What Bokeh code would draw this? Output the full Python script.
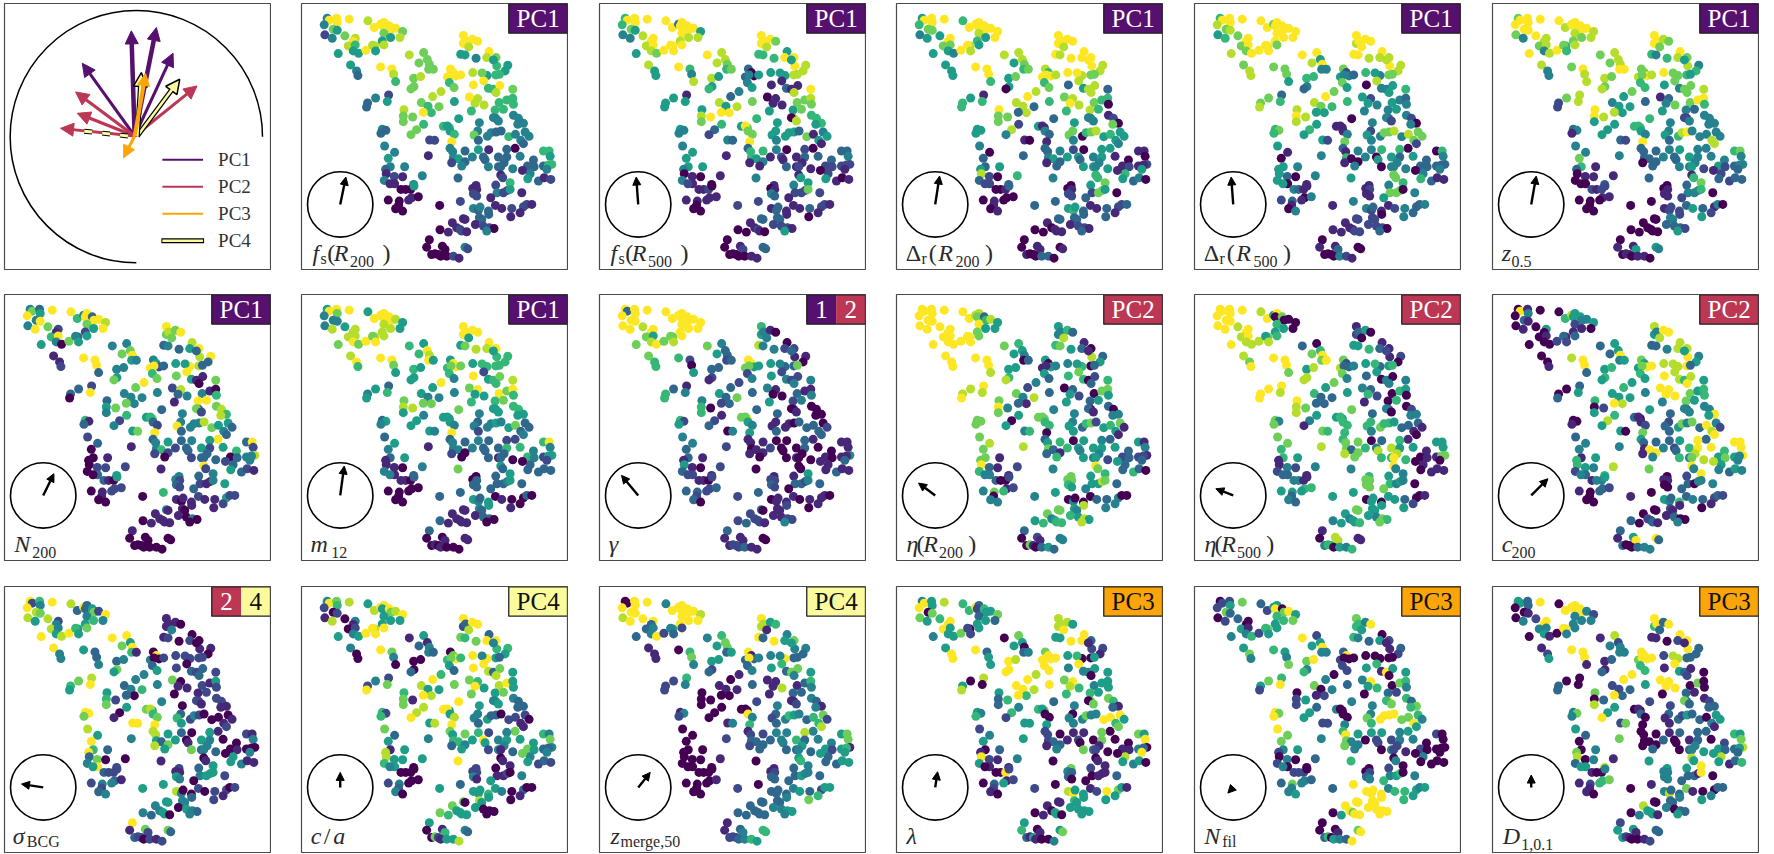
from bokeh.plotting import figure
from bokeh.layouts import row, column
from bokeh.models import Label, Arrow, NormalHead, ColumnDataSource, LinearColorMapper
from bokeh.embed import file_html
from bokeh.resources import INLINE
import math

point_x = [92,98,120,122,83,110,122,85,107,158, 214,233,252,262,257,278,283,297,318,262, 310,282,145,176,170,155,176,170,186,208, 235,228,257,262,237,125,162,180,184,
 252,286,291,297,338,381,367,392,398,396, 410,351,372,352,343,433,408,237,276,272, 213,210,374,394,404,427,380,322,320,348, 320,381,360,343,257,268,253,399,414,
 264,294,395,275,281,267,324,269,293,318, 263,294,280,377,351,313,327,342,352,345, 336,365,275,308,306,297,318,
 500,500,507,527,543,516,492,505,538,577, 570,598,600,590,633,625,597,608,571,556, 528,461,470,452,478,492,463,458,472,561, 530,575,590,609,598,648,518,543,535,562, 473,524,607,595,620,630,648,650,
 486,548,597,590,605,650,665,680,663,440, 458,452,460,473,543,532,545,572,583,598, 613,636,656,685,672,697,680,465,460,468, 505,527,545,576,655,630,560,565,740,757, 760,470,485,465,505,495,575,605,630,622, 605,612,670,648,710,692,712,700,740,765, 755,750,677,
 612,618,640,693,725,742,762,484,597,538, 528,540,530,540,601,620,632,640,675,582, 491,429,596,530,545,550,575,576,615,645, 680,690,705,670,642,548,555,
 467,500,505,536,560,578,592,570,430,455, 480,490,495,510,398,390,405,415,425,437, 445,432,450,470,487,505,513]
point_y = [52,58,52,65,72,85,88,102,112,55, 60,80,70,65,75,75,85,82,92,97, 110,110,105,112,122,135,132,150,157,148, 135,133,120,132,150,158,192,210,224,
 198,204,220,242,162,155,186,176,190,205, 205,232,227,257,264,272,287,291,282,302, 306,318,305,316,335,317,334,326,345,348, 362,370,386,401,385,388,397,417,418,
 435,454,464,472,497,505,497,518,526,527, 538,548,548,524,550,565,565,565,555,590, 597,587,597,600,612,623,630,
 104,128,120,115,121,138,160,162,172,152, 170,170,195,177,193,210,222,220,224,216, 215,204,215,228,225,222,222,245,260,240, 252,262,265,254,275,265,288,293,307,312, 302,330,305,327,325,297,292,310,
 353,365,352,350,360,343,352,367,370,376, 380,375,390,400,390,402,418,406,395,393, 390,407,400,393,418,406,428,422,442,452, 450,468,446,446,442,445,468,476,450,450, 466,470,473,485,482,495,497,468,468,485, 497,497,466,503,477,495,497,518,495,490, 492,505,508,
 522,530,545,533,540,530,535,531,552,553, 562,565,578,585,575,575,568,565,575,590, 601,613,613,622,628,618,630,640,622,622, 617,610,610,635,647,650,655,
 665,653,655,670,675,680,682,690,686,693, 680,685,690,692,716,738,760,758,760,735, 745,765,765,765,771,738,743]

fs200 = "4999475249" "8999999977" "8578986559" "885855543" "9986877777" "7787788425" "3376679877" "767743322" "4415434121" "4114400051" "1000000" "9999985549" "8765556657" "8999999679" "9669879888" "56666666" "5444444446" "6556473443" "3644443944" "3451033366" "5452344333" "3344333436" "641" "1265312321" "1122422511" "2014343312" "2211133" "1111220401" "1221000000" "0002142"
fs500 = "6999675449" "9939999959" "8889989879" "998995855" "9648988876" "7855643515" "5585989589" "763254443" "4515545010" "4121011201" "1111000" "9999786665" "9995888855" "5303054451" "1311890111" "75757787" "6580866655" "7977554555" "3714551936" "6140022133" "4651413131" "1231322222" "210" "1555101441" "0143222721" "2211331113" "2211033" "1332221500" "1210000001" "2001133"
dr200 = "5999677459" "6999999998" "9559977549" "896585555" "9996885876" "7575089516" "6688833977" "728455510" "4033355820" "3226300130" "0001101" "9999989899" "9999887789" "9869989678" "3588837898" "66786660" "3544412075" "1143774067" "8565554133" "4520555311" "0451335454" "5415012612" "151" "6675340450" "0122277503" "3315653313" "2231333" "1331221300" "0111001001" "1033001"
dr500 = "6999878569" "9979999999" "9979979799" "999798788" "7775998594" "4664379736" "7887565898" "856567652" "5140554530" "5054143110" "1423104" "9899999989" "8898887745" "6725434758" "0445565254" "64545434" "0434242041" "1114254477" "8487772731" "4446060506" "4601040534" "4454333433" "340" "7766311541" "1211777045" "4114231024" "3343422" "1222220311" "1122010001" "3042100"
z05 = "7999999749" "9899999988" "8798878489" "677869844" "7988787889" "9877875788" "2245558998" "555534132" "4447631011" "0001321221" "0100000" "9998776469" "8785466577" "9778987667" "5477781347" "35743996" "6412444446" "6654453689" "4444848933" "3445443367" "4330334544" "4542452234" "431" "1673233330" "0111444602" "0031222253" "1402544" "0003332500" "0000010111" "5011054"
n200 = "4735949499" "9649939987" "9572169407" "342555112" "9993447795" "4445797329" "3044447357" "462461357" "2310001022" "0302531052" "2201100" "9787973438" "5983938395" "5459239679" "7511072834" "41499106" "3437278685" "7632493444" "8755433934" "5234953339" "2462202523" "3353603348" "442" "9245321134" "4232211453" "6021011111" "5222110" "1411040001" "1111100000" "0000000"
m12 = "5997444489" "5999999858" "5858888979" "878897896" "9975656989" "5655595536" "4554747788" "545535454" "3514315110" "4144311030" "0000000" "9999955789" "8965666666" "5596977642" "9567687955" "46967796" "7455566555" "5554342445" "4573334934" "3443223369" "4442003363" "1360464325" "520" "5353333730" "0333334533" "3305435510" "0300143" "1111330031" "1111300100" "1100011"
gamma = "9399999999" "9999999999" "9989975897" "779987766" "6205745332" "3332123314" "6653372460" "612362504" "4423311510" "3222111022" "2333230" "6541048440" "2213103734" "5997557242" "5422444100" "35324114" "3310100007" "9754113110" "3330323511" "1200130011" "1011100030" "1000010114" "131" "0051311011" "2232332430" "3210111201" "1101011" "2301122423" "2221311221" "1231100"
eta200 = "9999999999" "9988736859" "5599999999" "997799999" "9998765540" "3556842898" "8974183794" "750577746" "7887771931" "6442130021" "6247044" "5446386751" "3081350365" "4501541537" "6602360352" "35035775" "4403130447" "7766455367" "2567511035" "6605345451" "4733165554" "4552323321" "235" "9763630457" "7765558734" "5400400833" "4004454" "7776585856" "4566300712" "1035344"
eta500 = "9999999999" "8959070006" "0589989888" "755689879" "9997307697" "9588875998" "9963333987" "854174776" "7786615142" "2334144116" "5655343" "1235005561" "3112205636" "5728343745" "3040444362" "51006650" "7334002445" "5666664766" "5333110667" "7603164855" "5738776858" "6956101117" "700" "9440111456" "7777645407" "5550550553" "0012555" "5775476745" "4556104668" "8054611"
c200 = "0914031010" "0685554452" "0105001002" "131320001" "8993353594" "5566556035" "0355859602" "568500150" "3444165654" "2348614453" "3210000" "8549983348" "8895459388" "8755997658" "9868959999" "44775566" "5334444953" "0112233574" "7394829753" "3435392399" "9191946698" "4798657559" "448" "9494354720" "1100304443" "0135436143" "2321021" "0001300430" "2231313005" "9034493"
sigma = "9264987859" "8393357294" "4682484589" "565759944" "5334997596" "1347544789" "6534063562" "750199799" "8549693370" "4950232223" "4124234" "1111041200" "2010102222" "2094020350" "2323327011" "40212152" "4022122117" "5867365242" "0000112988" "5530150121" "4538757544" "3403001500" "040" "0155411132" "1154455520" "5528400302" "2021244" "4550543443" "4550913227" "2021273"
c_a = "4976202188" "5899597895" "5504102459" "895995400" "9740153144" "3000369427" "2985859671" "788962658" "7345185855" "6545000000" "0024340" "9239987673" "9964655394" "9076967539" "9837857695" "77857955" "9554543339" "5958443533" "0222101975" "7562749564" "7663452454" "4153575434" "347" "0115232902" "2241112045" "3555556540" "3001085" "7705000076" "5555500721" "6155843"
zmerge = "0099999899" "4999999989" "9999334492" "549233111" "0674465773" "5552310264" "2211010000" "000014214" "0020000000" "0001000000" "0100000" "9885619394" "5745433394" "4913349346" "5377451118" "31133364" "2411243140" "0094323465" "4367628612" "2344484457" "7332333635" "3443452351" "655" "5643355031" "1233354433" "0243333453" "2556733" "3334455433" "3333112223" "4346566"
lam = "4955907758" "6693265573" "3569995557" "025524599" "9355075503" "4989989080" "5899689536" "346254655" "2455013921" "5104100921" "5203210" "8888595599" "9321210506" "5799999999" "4445057986" "96465555" "3470776136" "7500044474" "4999657522" "0111072075" "9231347071" "3200011840" "390" "0115450027" "4330011130" "0218955529" "7515565" "1115555501" "0550563150" "1100457"
nfil = "0225273027" "3255907956" "7630051462" "765554574" "6547925594" "4794604769" "5270241025" "235597922" "9747425040" "2043022204" "4337445" "7664956430" "5211320000" "0392000226" "5195054956" "30032764" "4496763764" "0000476999" "9776945469" "5055542220" "0747440242" "4241020400" "000" "0400000620" "0234456046" "9349999966" "5455699" "9999999905" "9799003600" "1543979"
d101 = "5533001049" "0999999424" "4429944510" "994440125" "9991184244" "4131399000" "3322339703" "855947427" "5370074804" "3551810046" "6712110" "9693931109" "2991333388" "2997999669" "1531209999" "50031700" "2237312330" "0130311325" "3305451000" "0313330065" "7000030134" "3405253838" "535" "8595136555" "4444331903" "1074833410" "0334533" "8004033504" "5551255215" "1001233"

PC1, PC2, PC3, PC4 = "#56106e", "#bb3754", "#fca50a", "#fbfb9d"
TAGS = {"PC1": [("PC1", PC1)], "PC2": [("PC2", PC2)], "PC3": [("PC3", PC3)], "PC4": [("PC4", PC4)],
        "12": [("1", PC1), ("2", PC2)], "24": [("2", PC2), ("4", PC4)]}

# name pieces: text, x, kind (i italic, n roman, s subscript)
panels = [
 [None,
  (fs200, "PC1", (17, 82), [("f","i",48),("s","s",72),("(","n",92),("R","i",112),("200","s",160),(")","n",258)]),
  (fs500, "PC1", (-6, 82), [("f","i",48),("s","s",72),("(","n",92),("R","i",112),("500","s",160),(")","n",258)]),
  (dr200, "PC1", (13, 85), [("\u0394","n",43),("r","s",90),("(","n",112),("R","i",140),("200","s",192),(")","n",280)]),
  (dr500, "PC1", (-6, 82), [("\u0394","n",43),("r","s",90),("(","n",112),("R","i",140),("500","s",192),(")","n",280)]),
  (z05, "PC1", (15, 85), [("z","i",43),("0.5","s",72)])],
 [(n200, "PC1", (32, 65), [("N","i",44),("200","s",98)]),
  (m12, "PC1", (12, 88), [("m","i",42),("12","s",104)]),
  (gamma, "12", (-50, 60), [("\u03b3","i",43)]),
  (eta200, "PC2", (-50, 37), [("\u03b7","i",45),("(","n",75),("R","i",95),("200","s",142),(")","n",230)]),
  (eta500, "PC2", (-52, 20), [("\u03b7","i",45),("(","n",75),("R","i",95),("500","s",142),(")","n",230)]),
  (c200, "PC2", (50, 50), [("c","i",43),("200","s",72)])],
 [(sigma, "24", (-65, 10), [("\u03c3","i",40),("BCG","s",82)]),
  (c_a, "PC4", (0, 45), [("c","i",43),("/","n",82),("a","i",110)]),
  (zmerge, "PC4", (36, 45), [("z","i",48),("merge,50","s",78)]),
  (lam, "PC3", (7, 47), [("\u03bb","i",45)]),
  (nfil, "PC3", (-16, -17), [("N","i",44),("fil","s",98)]),
  (d101, "PC3", (0, 37), [("D","i",46),("1,0.1","s",101)])],
]

FONT = "Liberation Serif"
XMIN, XMAX, YBOT, YTOP = 15, 812, 805, 8
CX, CY, CR = 131, 610, 98
cmap = LinearColorMapper(palette="Viridis256", low=0, high=9)


def base(margin):
    p = figure(width=268, height=268, x_range=(XMIN, XMAX), y_range=(YBOT, YTOP),
               x_axis_type=None, y_axis_type=None, toolbar_location=None,
               output_backend="svg", min_border=1, margin=margin)
    p.grid.visible = False
    p.outline_line_color = "#4a4a4a"
    p.outline_line_width = 1.2
    p.background_fill_color = "white"
    return p


def science(vals, tag, comp, name, margin):
    p = base(margin)
    digits = [int(c) for c in vals]
    assert len(digits) == len(point_x) == len(point_y), (vals[:10], len(digits), len(point_x), len(point_y))
    src = ColumnDataSource(dict(x=point_x, y=point_y, v=digits))
    p.scatter("x", "y", source=src, size=9, marker="circle",
              fill_color={"field": "v", "transform": cmap}, line_color=None)
    p.circle(x=[CX], y=[CY], radius=CR, fill_color=None, line_color="black", line_width=1.6)
    p.add_layout(Arrow(x_start=CX, y_start=CY, x_end=CX + comp[0], y_end=CY - comp[1],
                       line_color="black", line_width=2.4,
                       end=NormalHead(size=8, fill_color="black", line_color="black", line_width=1)))
    parts = TAGS[tag]
    w = 176 / len(parts)
    for i, (txt, col) in enumerate(parts):
        l = 636 + i * w
        p.quad(left=[l], right=[l + w], top=[YTOP + 1], bottom=[97], fill_color=col, line_color=None)
        dark = col in (PC3, PC4)
        p.add_layout(Label(x=l + w / 2, y=52, text=txt, text_font=FONT, text_font_size="25px",
                           text_color="#111111" if dark else "white", text_align="center", text_baseline="middle"))
    p.quad(left=[636], right=[XMAX], top=[YTOP + 1], bottom=[97], fill_color=None, line_color="#222222", line_width=1.3)
    for text, kind, x in name:
        sub = kind == "s"
        p.add_layout(Label(x=x, y=799 if sub else 796, text=text, text_font=FONT,
                           text_font_size="16px" if sub else "24px",
                           text_font_style="italic" if kind == "i" else "normal",
                           text_color="#2a2a2a", text_align="left", text_baseline="bottom"))
    return p


# arrow summary panel
ox, oy = 405, 405
pc1_tips = [(395, 90, 4.5), (470, 80, 4.5), (520, 157, 3), (248, 187, 3)]
pc2_tips = [(592, 255, 3), (228, 273, 3.2), (233, 337, 3.2), (183, 382, 2.8)]
pc4_tips = [(540, 235, 2.6), (425, 215, 2.6)]
pc3_tips = [(438, 218, 4), (372, 470, 3)]
legend_y = [476, 557, 638, 719]
legend_names = ["PC1", "PC2", "PC3", "PC4"]
legend_cols = [PC1, PC2, PC3, PC4]
ARC_X, ARC_Y, ARC_R = 410, 407, 378


def arrow_panel(margin):
    p = base(margin)
    p.arc(x=[ARC_X], y=[ARC_Y], radius=ARC_R, start_angle=0, end_angle=3 * math.pi / 2,
          direction="anticlock", line_color="black", line_width=1.5)
    for tips, col in ((pc1_tips, PC1), (pc2_tips, PC2)):
        for x, y, lw in tips:
            p.add_layout(Arrow(x_start=ox, y_start=oy, x_end=x, y_end=y, line_color=col, line_width=lw,
                               end=NormalHead(size=13, fill_color=col, line_color=col, line_width=1)))
    d1 = p.line([385, 250], [405, 390], line_color="black", line_width=5, line_dash="8 10")
    d2 = p.line([385, 250], [405, 390], line_color=PC4, line_width=3, line_dash="8 10")
    d1.level = "overlay"
    d2.level = "overlay"
    for x, y, lw in pc4_tips:
        p.add_layout(Arrow(x_start=ox + 8, y_start=oy, x_end=x, y_end=y, line_color="black", line_width=lw + 2.4,
                           end=NormalHead(size=14, fill_color=PC4, line_color="black", line_width=1.5)))
        p.add_layout(Arrow(x_start=ox + 8, y_start=oy, x_end=x + (ox + 8 - x) * 0.16, y_end=y + (oy - y) * 0.16,
                           end=None, line_color=PC4, line_width=lw))
    for x, y, lw in pc3_tips:
        p.add_layout(Arrow(x_start=ox, y_start=oy, x_end=x, y_end=y, line_color=PC3, line_width=lw,
                           end=NormalHead(size=12, fill_color=PC3, line_color=PC3, line_width=1)))
    for yy, nm, col in zip(legend_y, legend_names, legend_cols):
        if nm == "PC4":
            p.line([485, 613], [yy, yy], line_color="black", line_width=5)
            p.line([488, 610], [yy, yy], line_color=col, line_width=2.6)
        else:
            p.line([488, 610], [yy, yy], line_color=col, line_width=2)
        p.add_layout(Label(x=655, y=yy, text=nm, text_font=FONT, text_font_size="19px",
                           text_color="#333333", text_align="left", text_baseline="middle"))
    return p


col_gaps = [29, 30, 29, 30, 30, 0]
row_gaps = [23, 24, 0]
rows = []
for r, specs in enumerate(panels):
    figs = []
    for c, sp in enumerate(specs):
        mar = (0, col_gaps[c], 0, 0)
        if sp is None:
            figs.append(arrow_panel(mar))
        else:
            figs.append(science(sp[0], sp[1], sp[2], sp[3], mar))
    rows.append(row(*figs, margin=(0, 0, row_gaps[r], 0)))
root = column(*rows, margin=(2, 0, 0, 3))
open("out.html", "w").write(file_html(root, INLINE))
